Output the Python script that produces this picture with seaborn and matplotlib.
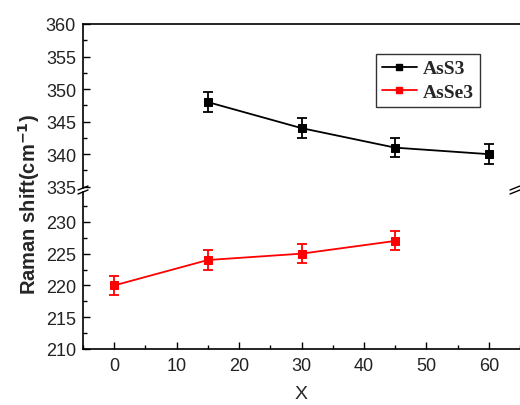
import matplotlib
matplotlib.use("Agg")
import matplotlib.pyplot as plt
import seaborn as sns
import numpy as np
import pandas as pd
from matplotlib.ticker import MultipleLocator

x_ass3 = [15, 30, 45, 60]
y_ass3 = [348, 344, 341, 340]
e_ass3 = [1.5, 1.5, 1.5, 1.5]

x_asse3 = [0, 15, 30, 45]
y_asse3 = [220, 224, 225, 227]
e_asse3 = [1.5, 1.5, 1.5, 1.5]

series_names = ["AsS3", "AsSe3"]
colors = ["black", "red"]

sns.set_theme(style="white")
plt.rcParams['font.family'] = ['Liberation Sans', 'DejaVu Sans']

df = pd.concat([
    pd.DataFrame({"X": x_ass3, "y": y_ass3, "err": e_ass3, "series": series_names[0]}),
    pd.DataFrame({"X": x_asse3, "y": y_asse3, "err": e_asse3, "series": series_names[1]}),
])

W, H = 520, 406
fig = plt.figure(figsize=(5.2, 4.06), dpi=100)
left = 83 / W
right = 1.0
top_y, brk_top, brk_bot, bot_y = 25, 189, 193, 350
ax_top = fig.add_axes([left, 1 - brk_top / H, right - left, (brk_top - top_y) / H])
ax_bot = fig.add_axes([left, 1 - bot_y / H, right - left, (bot_y - brk_bot) / H])

for ax in (ax_top, ax_bot):
    for name, col in zip(series_names, colors):
        d = df[df.series == name]
        sns.lineplot(data=d, x="X", y="y", ax=ax, color=col, marker="s",
                     markersize=6, markeredgecolor=col, linewidth=1.3,
                     label=name, legend=False)
        ax.errorbar(d.X, d.y, yerr=d.err, fmt="none", ecolor=col,
                    elinewidth=1.3, capsize=3.5, capthick=1.3)
    ax.set_xlim(-5, 65)
    ax.xaxis.set_major_locator(MultipleLocator(10))
    ax.xaxis.set_minor_locator(MultipleLocator(5))
    ax.yaxis.set_major_locator(MultipleLocator(5))
    ax.yaxis.set_minor_locator(MultipleLocator(2.5))
    ax.tick_params(which="both", direction="in", colors="black", labelsize=13,
                   width=1.0, labelcolor="#222222", left=True, bottom=True,
                   top=False, right=False)
    ax.tick_params(which="major", length=5)
    ax.tick_params(which="minor", length=3)
    ax.spines["right"].set_visible(False)
    for s in ax.spines.values():
        s.set_color("black")
        s.set_linewidth(1.2)
    ax.set_xlabel("")
    ax.set_ylabel("")
    ax.set_facecolor("white")

ax_top.set_ylim(334.8, 360)
ax_bot.set_ylim(210, 234.7)
ax_top.spines["bottom"].set_visible(False)
ax_bot.spines["top"].set_visible(False)
ax_top.tick_params(axis="x", which="both", bottom=False, labelbottom=False)
ax_bot.tick_params(axis="x", which="both", pad=6)
ax_bot.tick_params(axis="y", which="both", pad=5)
ax_top.tick_params(axis="y", which="both", pad=5)

ax_bot.set_xlabel("X", fontsize=14, labelpad=8)
fig.text(29 / W, 1 - 204 / H, "Raman shift(cm$^{\\mathbf{-1}}$)",
         rotation=90, ha="center", va="center", fontsize=14.5, fontweight="bold")

# break marks
for xpix in (83, 515):
    for dy in (-2, 2):
        yc = 191 + dy
        fig.add_artist(plt.Line2D([(xpix - 5) / W, (xpix + 5) / W],
                                  [1 - (yc + 2) / H, 1 - (yc - 2) / H],
                                  color="black", linewidth=1.0, transform=fig.transFigure))

handles = [plt.Line2D([], [], color=c, marker="s", markersize=5, linewidth=1.3) for c in colors]
leg = ax_top.legend(handles, series_names, loc="upper left",
                    bbox_to_anchor=((376 - 83) / (W - 83), 1 - (55 - top_y) / (brk_top - top_y)),
                    frameon=True, fancybox=False, edgecolor="#333333", framealpha=1,
                    prop={"family": "Liberation Serif", "weight": "bold", "size": 14},
                    handlelength=1.8, handletextpad=0.3, borderpad=0.3, labelspacing=0.3,
                    borderaxespad=0)
leg.get_frame().set_linewidth(1.0)

fig.savefig("out.png", dpi=100, facecolor="white")
